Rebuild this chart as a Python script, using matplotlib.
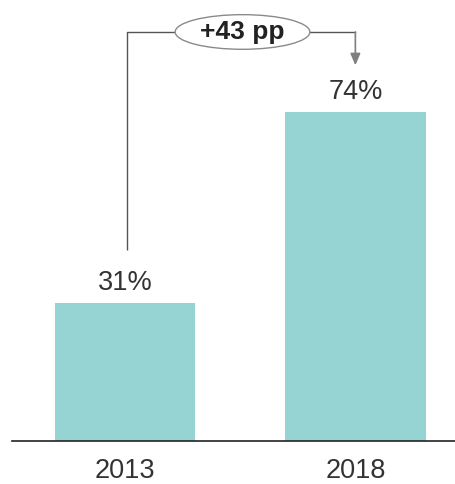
#!/usr/bin/env python3
"""Share chart 2013 vs 2018 with percentage-point change callout."""

import matplotlib.pyplot as plt
from matplotlib.patches import Ellipse

years = ["2013", "2018"]
values = [31, 74]
change_label = "+43 pp"

BAR_COLOR = "#96D3D3"
TEXT_COLOR = "#333333"

plt.rcParams["font.family"] = ["Liberation Sans", "DejaVu Sans"]

fig = plt.figure(figsize=(4.56, 4.84), dpi=100)
ax = fig.add_axes([12 / 456, 1 - 441 / 484, 444 / 456, 441 / 484])

x = list(range(len(years)))
ax.bar(x, values, width=0.61, color=BAR_COLOR, zorder=2)
ax.set_xlim(-0.491, 1.437)
ax.set_ylim(0, 99.3)

for xi, v in zip(x, values):
    ax.text(xi, v + 2.9, f"{v}%", ha="center", va="baseline", fontsize=19.5, color=TEXT_COLOR)

ax.set_xticks(x)
ax.set_xticklabels(years, fontsize=19.5, color=TEXT_COLOR)
ax.tick_params(axis="x", length=0, pad=12.5)
ax.set_yticks([])
for side in ["top", "right", "left"]:
    ax.spines[side].set_visible(False)
ax.spines["bottom"].set_color("#222222")
ax.spines["bottom"].set_linewidth(1.2)

# callout bracket
level = 92.1
ex, ew, eh = 0.51, 0.585, 7.8
ax.plot([x[0] + 0.01, x[0] + 0.01, ex - ew / 2], [values[0] + 12, level, level],
        color="#555555", lw=1, solid_capstyle="butt")
ax.plot([ex + ew / 2, x[1]], [level, level], color="#555555", lw=1)
ax.annotate("", xy=(x[1], values[1] + 10.6), xytext=(x[1], level),
            arrowprops=dict(arrowstyle="-|>,head_length=0.7,head_width=0.3",
                            color="#7f7f7f", lw=1.2, shrinkA=0, shrinkB=0))
ax.add_patch(Ellipse((ex, level), ew, eh, facecolor="white", edgecolor="#8a8a8a",
                     lw=1, zorder=3))
ax.text(ex, level, change_label, ha="center", va="center", fontsize=19,
        fontweight="bold", color="#222222", zorder=4)

fig.savefig("out.png", dpi=100)
